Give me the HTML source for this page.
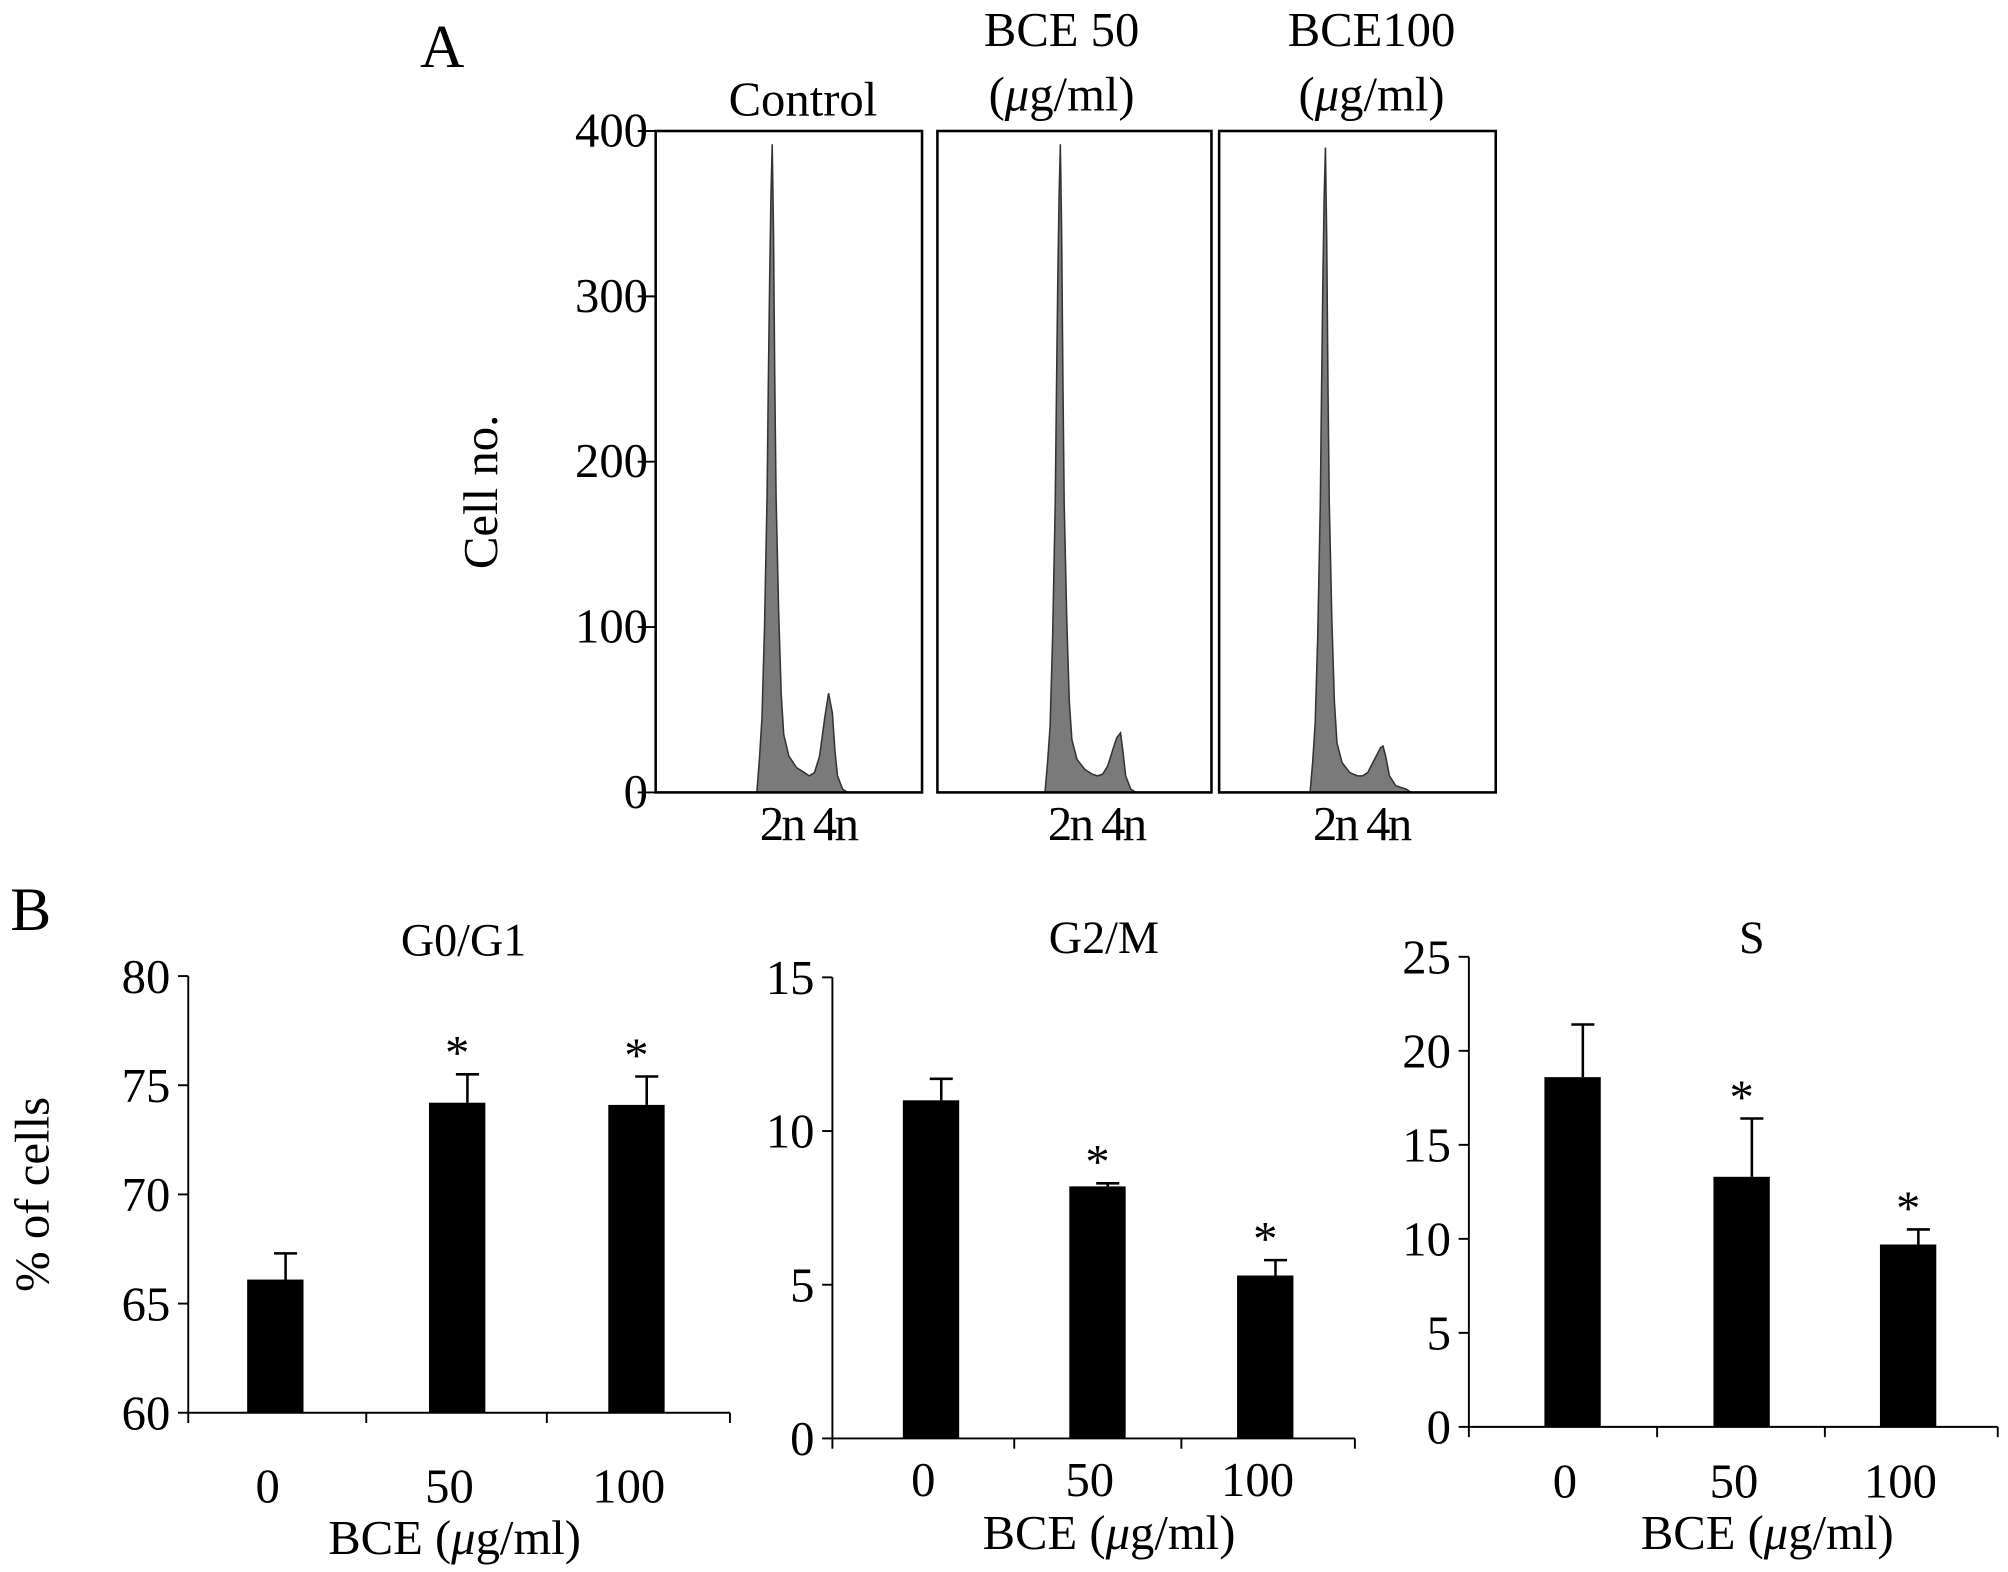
<!DOCTYPE html>
<html><head><meta charset="utf-8"><style>
html,body{margin:0;padding:0;background:#fff}
svg{display:block}
text{font-family:"Liberation Serif",serif;fill:#000}
</style></head><body>
<svg id="fig" width="2008" height="1572" viewBox="0 0 1568 1224" preserveAspectRatio="none" xmlns="http://www.w3.org/2000/svg">
<g id="panelA"></g>
<g id="panelB"></g>
</svg>
<script>
// ---- Panel A data ----
const histTitles1 = ["Control","BCE 50","BCE100"];
const histTitles2 = ["","g/ml)","g/ml)"];
const histTicks = [0,100,200,300,400];
const ctrlChannels = [79,81,83,85,87,88,89,90,91,92,93,94,96,98,100,104,110,116,120,124,128,132,135,138,140,142,146,150];
const ctrlCounts   = [0,20,45,100,180,250,310,360,392,340,250,180,110,60,35,22,15,12,10,12,22,45,60,48,25,10,2,0];
const bce50Channels = [84,86,88,90,92,93,94,95,96,97,98,99,101,103,105,109,115,121,125,129,133,137,140,143,145,147,151,155];
const bce50Counts   = [0,18,40,95,175,245,310,360,392,340,250,175,105,55,32,20,14,11,10,11,16,26,33,36,24,10,2,0];
const bce100Channels = [71,73,75,77,79,80,81,82,83,84,85,86,88,90,92,96,102,108,112,116,120,124,126,128,130,133,138,146,150];
const bce100Counts   = [0,18,42,95,175,245,310,360,390,335,245,175,105,55,30,18,12,10,10,12,18,24,27,28,22,10,4,2,0];
const histChannels = [ctrlChannels,bce50Channels,bce100Channels];
const histCounts = [ctrlCounts,bce50Counts,bce100Counts];

// ---- Panel B data ----
const barCategories = ["0","50","100"];
const g1Values = [66.1,74.2,74.1];
const g1Errors = [1.2,1.3,1.3];
const g1Ticks = [60,65,70,75,80];
const g2Values = [11.0,8.2,5.3];
const g2Errors = [0.7,0.1,0.5];
const g2Ticks = [0,5,10,15];
const sValues = [18.6,13.3,9.7];
const sErrors = [2.8,3.1,0.8];
const sTicks = [0,5,10,15,20,25];
const starFlags = [[false,true,true],[false,true,true],[false,true,true]];

const NS="http://www.w3.org/2000/svg";
function mk(tag,attrs,parent,txt){const e=document.createElementNS(NS,tag);for(const k in attrs)e.setAttribute(k,attrs[k]);if(txt!==undefined)e.textContent=txt;parent.appendChild(e);return e;}

const A=document.getElementById('panelA');
let t=mk('text',{x:328,y:52,'font-size':48},A,'A');


const boxes=[[512,720],[732,946],[952,1168]];
const yTop=102,yBot=617;
const hy=v=>yBot-(v/400)*(yBot-yTop);
histTicks.forEach(v=>{
  let l=mk('line',{x1:498,x2:512,y1:hy(v),y2:hy(v),stroke:'#000','stroke-width':1.5},A);
  
  
  let tx=mk('text',{x:506,y:hy(v)+12,'font-size':38,'text-anchor':'end'},A,String(v));
  
  
});
t=mk('text',{x:0,y:0,'font-size':38,'text-anchor':'middle',transform:'translate(388,383) rotate(-90)'},A,'Cell no.');


boxes.forEach((b,i)=>{
  const [x0,x1]=b;
  const pts=histChannels[i].map((c,j)=>`${x0+c},${hy(histCounts[i][j])}`).join(' ');
  let p=mk('polygon',{points:`${x0+histChannels[i][0]},${yBot} ${pts} ${x0+histChannels[i][histChannels[i].length-1]},${yBot}`,fill:'#7a7a7a',stroke:'#333','stroke-width':1.2},A);
  
  
  let r=mk('rect',{x:x0,y:yTop,width:x1-x0,height:yBot-yTop,fill:'none',stroke:'#000','stroke-width':2},A);
  
  
  const cx=[627,829,1071][i];
  if(histTitles2[i]){
    let a=mk('text',{x:cx,y:36,'font-size':38,'text-anchor':'middle'},A,histTitles1[i]);
    
    
    let b2=mk('text',{x:cx,y:86,'font-size':38,'text-anchor':'middle'},A);
    
    
    b2.innerHTML='(<tspan font-style="italic">\u03bc</tspan>'+histTitles2[i];
  } else {
    let a=mk('text',{x:cx,y:90,'font-size':38,'text-anchor':'middle'},A,histTitles1[i]);
    
    
  }
  const pk=x0+histChannels[i][histCounts[i].indexOf(Math.max(...histCounts[i]))];
  let n=mk('text',{x:pk+28,y:654,'font-size':38,'text-anchor':'middle','letter-spacing':-2},A,'2n 4n');
  
  
});

const B=document.getElementById('panelB');
t=mk('text',{x:8,y:724,'font-size':48},B,'B');


t=mk('text',{x:0,y:0,'font-size':38,'text-anchor':'middle',transform:'translate(38,930) rotate(-90)'},B,'% of cells');



const charts=[
 {name:'G0/G1',vals:g1Values,errs:g1Errors,ticks:g1Ticks,ax:147,xEnd:570,top:760,bot:1100,centers:[215,357,497],labY:1170,titY:1210,titX:355,headY:744,headX:362},
 {name:'G2/M',vals:g2Values,errs:g2Errors,ticks:g2Ticks,ax:650,xEnd:1058,top:761,bot:1120,centers:[727,857,988],labY:1165,titY:1206,titX:866,headY:742,headX:862},
 {name:'S',vals:sValues,errs:sErrors,ticks:sTicks,ax:1147,xEnd:1560,top:745,bot:1111,centers:[1228,1360,1490],labY:1166,titY:1206,titX:1380,headY:742,headX:1368}
];
charts.forEach((c,ci)=>{
  const g=mk('g',{},B);
  
  
  const mn=c.ticks[0],mx=c.ticks[c.ticks.length-1];
  const y=v=>c.bot-(v-mn)/(mx-mn)*(c.bot-c.top);
  let l=mk('line',{x1:c.ax,x2:c.ax,y1:c.top,y2:c.bot,stroke:'#000','stroke-width':1.5},g);
  
  
  l=mk('line',{x1:c.ax,x2:c.xEnd,y1:c.bot,y2:c.bot,stroke:'#000','stroke-width':1.5},g);
  
  
  c.ticks.forEach(v=>{
    let tl=mk('line',{x1:c.ax-8,x2:c.ax,y1:y(v),y2:y(v),stroke:'#000','stroke-width':1.5},g);
    
    
    let tx=mk('text',{x:c.ax-14,y:y(v)+13,'font-size':38,'text-anchor':'end'},g,String(v));
    
    
  });
  for(let k=1;k<c.centers.length;k++){
    const xt=(c.centers[k-1]+c.centers[k])/2;
    let tl=mk('line',{x1:xt,x2:xt,y1:c.bot,y2:c.bot+8,stroke:'#000','stroke-width':1.5},g);
    
    
  }
  [c.ax,c.xEnd].forEach(xt=>{let tl=mk('line',{x1:xt,x2:xt,y1:c.bot,y2:c.bot+8,stroke:'#000','stroke-width':1.5},g);
    
    });
  c.vals.forEach((v,i)=>{
    const cx=c.centers[i],w=44;
    let e=mk('line',{x1:cx+8,x2:cx+8,y1:y(v+c.errs[i]),y2:y(v),stroke:'#000','stroke-width':2},g);
    
    
    e=mk('line',{x1:cx-1,x2:cx+17,y1:y(v+c.errs[i]),y2:y(v+c.errs[i]),stroke:'#000','stroke-width':2},g);
    
    
    let r=mk('rect',{x:cx-w/2,y:y(v),width:w,height:c.bot-y(v),fill:'#000'},g);
    
    
    if(starFlags[ci][i]){
      let s=mk('text',{x:cx,y:y(v+c.errs[i])-4,'font-size':38,'text-anchor':'middle'},g,'*');
      
      
    }
    let lb=mk('text',{x:cx-6,y:c.labY,'font-size':38,'text-anchor':'middle'},g,barCategories[i]);
    
    
  });
  let tt=mk('text',{x:c.titX,y:c.titY,'font-size':38,'text-anchor':'middle'},g);
  
  
  tt.innerHTML='BCE (<tspan font-style="italic">\u03bc</tspan>g/ml)';
  let h=mk('text',{x:c.headX,y:c.headY,'font-size':36,'text-anchor':'middle'},g,c.name);
  
  
});
</script>
</body></html>
